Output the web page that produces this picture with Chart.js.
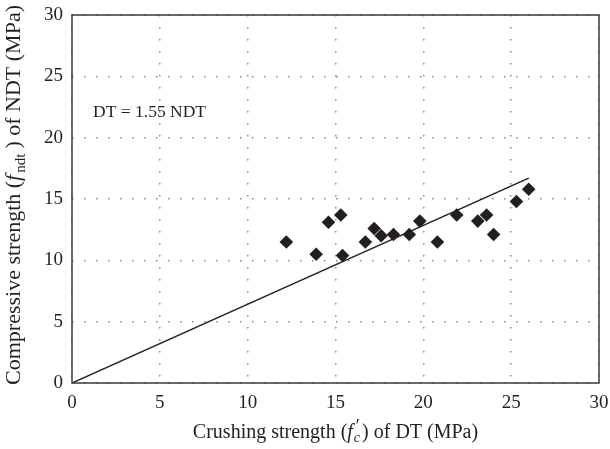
<!DOCTYPE html>
<html>
<head>
<meta charset="utf-8">
<script src="https://cdn.jsdelivr.net/npm/chart.js@4.4.1/dist/chart.umd.min.js"></script>
<style>
  html, body { margin: 0; padding: 0; background: #fff; }
  #wrap { width: 610px; height: 449px; }
</style>
</head>
<body>
<div id="wrap"><canvas id="chart"></canvas></div>
<script>
// crushing strength of DT (x) and compressive strength of NDT (y), MPa
const crushDT = [12.2, 13.9, 14.6, 15.3, 15.4, 16.7, 17.2, 17.6, 18.3, 19.2, 19.8, 20.8, 21.9, 23.1, 23.6, 24.0, 25.3, 26.0];
const ndtStrength = [11.5, 10.5, 13.1, 13.7, 10.4, 11.5, 12.6, 12.0, 12.1, 12.1, 13.2, 11.5, 13.7, 13.2, 13.7, 12.1, 14.8, 15.8];

// fitted line DT = 1.55 NDT
const fitX = [0, 26.0];
const fitY = [0, 16.7];

const axisMin = 0;
const axisMax = 30;
const tickStep = 5;

const serif = "Liberation Serif";
const txtColor = "#231f20";

const points = crushDT.map((x, i) => ({ x: x, y: ndtStrength[i] }));
const fitLine = fitX.map((x, i) => ({ x: x, y: fitY[i] }));

// pieces of text with italic / sub / superscript
function partFont(p, size) {
  return (p.italic ? "italic " : "") + Math.round(size * (p.scale || 1)) + 'px "' + serif + '"';
}
function measureParts(ctx, parts, size) {
  let w = 0;
  parts.forEach((p) => {
    ctx.font = partFont(p, size);
    if (!p.noAdvance) w += ctx.measureText(p.text).width + (p.kern || 0);
  });
  return w;
}
function drawParts(ctx, parts, x, y, size) {
  parts.forEach((p) => {
    ctx.font = partFont(p, size);
    ctx.fillText(p.text, x + (p.dx || 0), y + (p.dy || 0) * size);
    if (!p.noAdvance) x += ctx.measureText(p.text).width + (p.kern || 0);
  });
}

const xTitle = [
  { text: "Crushing strength (" },
  { text: "f", italic: true, kern: 1 },
  { text: "\u2032", scale: 0.9, dy: -0.3, noAdvance: true, dx: 2 },
  { text: "c", italic: true, scale: 0.72, dy: 0.22, kern: 2 },
  { text: ") of DT (MPa)" },
];
const yTitle = [
  { text: "Compressive strength (" },
  { text: "f", italic: true, kern: 2 },
  { text: "ndt", scale: 0.7, dy: 0.22, kern: 5 },
  { text: ") of NDT (MPa)" },
];

const decorations = {
  id: "decorations",
  afterDraw(chart) {
    const ctx = chart.ctx;
    const a = chart.chartArea;
    ctx.save();
    // frame round the plot
    ctx.strokeStyle = "#3a3a3a";
    ctx.lineWidth = 1.5;
    ctx.strokeRect(a.left, a.top, a.right - a.left, a.bottom - a.top);

    ctx.fillStyle = txtColor;
    ctx.textBaseline = "alphabetic";
    ctx.textAlign = "left";

    // x title
    let w = measureParts(ctx, xTitle, 20);
    drawParts(ctx, xTitle, (a.left + a.right) / 2 - w / 2, 438, 20);

    // y title
    w = measureParts(ctx, yTitle, 21.5);
    ctx.translate(20, (a.top + a.bottom) / 2 - 4);
    ctx.rotate(-Math.PI / 2);
    drawParts(ctx, yTitle, -w / 2, 0, 21.5);
    ctx.restore();

    // equation label
    ctx.save();
    ctx.fillStyle = txtColor;
    ctx.font = '17.5px "' + serif + '"';
    ctx.fillText("DT = 1.55 NDT", chart.scales.x.getPixelForValue(1.2), chart.scales.y.getPixelForValue(21.7));
    ctx.restore();
  },
};

const ctx = document.getElementById("chart");

const chart = new Chart(ctx, {
  type: "scatter",
  plugins: [decorations],
  data: {
    datasets: [
      {
        type: "line",
        data: fitLine,
        borderColor: "#231f20",
        borderWidth: 1.5,
        pointRadius: 0,
        fill: false,
      },
      {
        data: points,
        pointStyle: "rectRot",
        pointRadius: 6.8,
        backgroundColor: "#231f20",
        borderColor: "#231f20",
        borderWidth: 0,
      },
    ],
  },
  options: {
    responsive: true,
    maintainAspectRatio: false,
    animation: false,
    layout: {
      padding: { top: 15, right: 11, left: 0, bottom: 0 },
    },
    plugins: {
      legend: { display: false },
      tooltip: { enabled: false },
    },
    scales: {
      x: {
        type: "linear",
        min: axisMin,
        max: axisMax,
        afterFit: (scale) => {
          scale.height = 66;
          scale.paddingLeft = 0;
          scale.paddingRight = 0;
        },
        ticks: {
          stepSize: tickStep,
          padding: 9,
          color: txtColor,
          font: { family: serif, size: 19 },
        },
        grid: {
          color: "#8a8a8a",
          lineWidth: 1.5,
          drawTicks: false,
        },
        border: { display: false, dash: [1.5, 10.5] },
      },
      y: {
        type: "linear",
        min: axisMin,
        max: axisMax,
        afterFit: (scale) => {
          scale.width = 72;
          scale.paddingTop = 0;
          scale.paddingBottom = 0;
        },
        ticks: {
          stepSize: tickStep,
          padding: 9,
          color: txtColor,
          font: { family: serif, size: 19 },
        },
        grid: {
          color: "#8a8a8a",
          lineWidth: 1.5,
          drawTicks: false,
        },
        border: { display: false, dash: [1.5, 10.5] },
      },
    },
  },
});
</script>
</body>
</html>
